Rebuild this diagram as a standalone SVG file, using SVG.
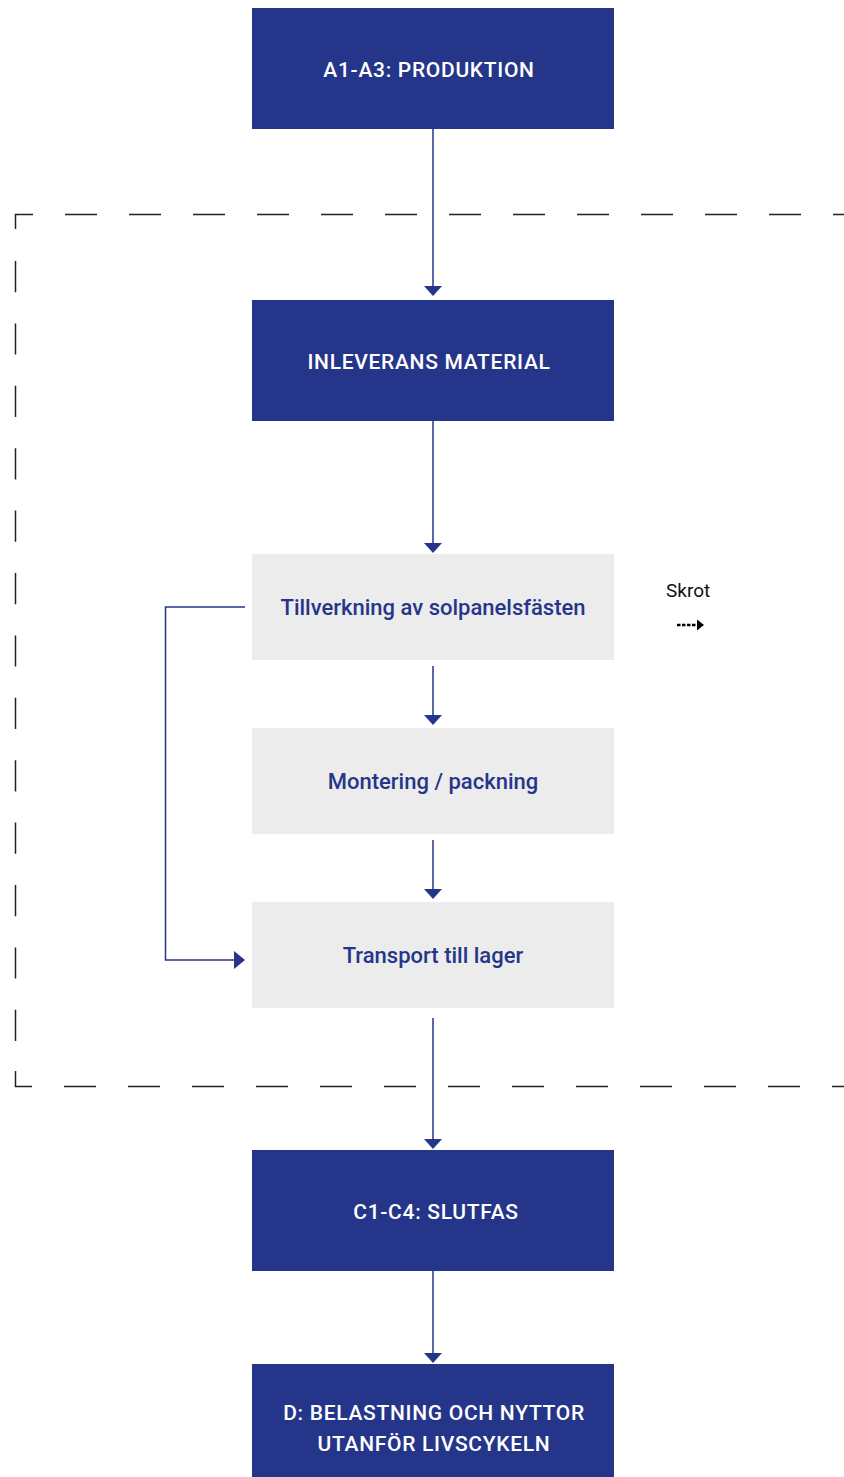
<svg xmlns="http://www.w3.org/2000/svg" width="844" height="1477" viewBox="0 0 844 1477">
<style>
.blue{fill:#25368a}
.gray{fill:#ececec}
.tw{fill:#ffffff;font-family:Roboto,"Liberation Sans",sans-serif;font-size:21px;font-weight:500;letter-spacing:0.7px;text-anchor:middle}
.tb{fill:#25368a;font-family:Roboto,"Liberation Sans",sans-serif;font-size:22px;font-weight:500;text-anchor:middle}
.ln{fill:none;stroke:#25368a;stroke-width:1.5}
.ah{fill:#25368a}
.dash{fill:none;stroke:#222;stroke-width:1.5}
</style>
<g id="boundary">
<path class="dash" d="M15.5,229 V214.5 H844" stroke-dasharray="32 32"/>
<path class="dash" d="M15.5,261 V1041" stroke-dasharray="31.2 31.2"/>
<path class="dash" d="M15.5,1071 V1086.5 H844" stroke-dasharray="32 32"/>
</g>
<g id="n1"><rect class="blue" x="252" y="8" width="362" height="121"/><text class="tw" x="429" y="76.5">A1-A3: PRODUKTION</text></g>
<g id="n2"><rect class="blue" x="252" y="300" width="362" height="121"/><text class="tw" x="429" y="368.5">INLEVERANS MATERIAL</text></g>
<g id="n3"><rect class="gray" x="252" y="554" width="362" height="106"/><text class="tb" x="433" y="615">Tillverkning av solpanelsfästen</text></g>
<g id="n4"><rect class="gray" x="252" y="728" width="362" height="106"/><text class="tb" x="433" y="789">Montering / packning</text></g>
<g id="n5"><rect class="gray" x="252" y="902" width="362" height="106"/><text class="tb" x="433" y="963">Transport till lager</text></g>
<g id="n6"><rect class="blue" x="252" y="1150" width="362" height="121"/><text class="tw" x="436" y="1218.5">C1-C4: SLUTFAS</text></g>
<g id="n7"><rect class="blue" x="252" y="1364" width="362" height="113"/><text class="tw" x="434" y="1419.5">D: BELASTNING OCH NYTTOR</text><text class="tw" x="434" y="1450.5">UTANFÖR LIVSCYKELN</text></g>
<g id="legend">
<text x="666" y="597" style="font-family:Roboto,'Liberation Sans',sans-serif;font-size:19px;fill:#111">Skrot</text>
<path d="M677,625 H697" stroke="#000" stroke-width="2.5" stroke-dasharray="3.5 1.5" fill="none"/>
<polygon points="697,619.5 704,625 697,630.5" fill="#000"/>
</g>
<g id="connectors">
<path class="ln" d="M433,129 V287"/><polygon class="ah" points="424,286 442,286 433,296"/>
<path class="ln" d="M433,421 V544"/><polygon class="ah" points="424,543 442,543 433,553"/>
<path class="ln" d="M433,666 V716"/><polygon class="ah" points="424,715 442,715 433,725"/>
<path class="ln" d="M433,840 V890"/><polygon class="ah" points="424,889 442,889 433,899"/>
<path class="ln" d="M433,1018 V1140"/><polygon class="ah" points="424,1139 442,1139 433,1149"/>
<path class="ln" d="M433,1271 V1354"/><polygon class="ah" points="424,1353 442,1353 433,1363"/>
<path class="ln" d="M245,607 H165.5 V960 H235"/><polygon class="ah" points="234,951 245,960 234,969"/>
</g>
</svg>
